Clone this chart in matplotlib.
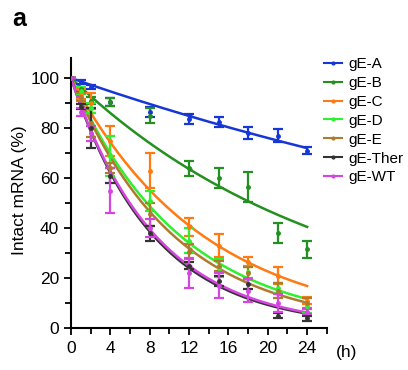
import matplotlib
matplotlib.use('Agg')
import matplotlib.pyplot as plt
import numpy as np

plt.rcParams['font.family'] = ['Liberation Sans', 'DejaVu Sans']

# sampling times (h)
hours = [0, 1, 2, 4, 8, 12, 15, 18, 21, 24]

names = ['gE-A', 'gE-B', 'gE-C', 'gE-D', 'gE-E', 'gE-Ther', 'gE-WT']
colors = ['#1637d6', '#23901f', '#ff7a12', '#2ef02e', '#b07a2c', '#333333', '#d545e0']

# mean intact mRNA (%) and SD
gE_A = [100, 98.5, 96.5, 90.5, 86.5, 83.5, 82.5, 78, 77, 71]
gE_A_sd = [0, 0.8, 0.8, 1.5, 2, 2, 2, 2.5, 2.5, 1.5]
gE_B = [100, 95.5, 91, 90.5, 85, 64, 60, 56.5, 38, 31.5]
gE_B_sd = [0, 1, 1.5, 1.5, 3, 3, 4, 6, 4, 3.5]
gE_C = [100, 93.5, 90, 75, 63, 40.5, 33, 26.5, 21, 11]
gE_C_sd = [0, 2, 4, 6, 7, 3.5, 4.5, 2, 3.5, 1.5]
gE_D = [100, 95, 88, 69, 51, 35, 24, 22.5, 16, 9]
gE_D_sd = [0, 1.5, 2, 8, 4, 5, 3.5, 2.5, 2, 3]
gE_E = [100, 92.5, 82, 64, 45.5, 30.5, 25, 22, 15, 10]
gE_E_sd = [0, 1.5, 5.5, 2, 4.5, 3, 2, 2.5, 3, 2]
gE_Ther = [100, 88.5, 80, 61, 38, 25, 19, 17.5, 5, 4]
gE_Ther_sd = [0, 1, 8, 3, 3, 1.5, 2, 2, 1, 1]
gE_WT = [100, 86.5, 78, 55, 40, 22, 17, 15, 10, 6.5]
gE_WT_sd = [0, 1.5, 3, 9, 3.5, 6, 5, 4.5, 3.5, 1]

# fitted first-order decay constants (1/h)
decay_k = [0.0137, 0.0377, 0.0743, 0.0898, 0.0955, 0.119, 0.116]

means = [gE_A, gE_B, gE_C, gE_D, gE_E, gE_Ther, gE_WT]
sds = [gE_A_sd, gE_B_sd, gE_C_sd, gE_D_sd, gE_E_sd, gE_Ther_sd, gE_WT_sd]

fig = plt.figure(figsize=(4.08, 3.70), dpi=100)
ax = fig.add_axes([0.174, 0.1135, 0.627, 0.743])

tt = np.linspace(0, 24, 200)
for name, c, m, s, k in zip(names, colors, means, sds, decay_k):
    ax.errorbar(hours, m, yerr=s, fmt='o', ms=2.5, color=c, ecolor=c,
                elinewidth=1.6, capsize=3.5, capthick=1.6, zorder=3)
    ax.plot(tt, 100 * np.exp(-k * tt), color=c, lw=1.8, zorder=2,
            label=name, marker='.', markevery=[100], ms=4)

ax.set_xlim(0, 26)
ax.set_ylim(0, 110)
ax.set_xticks(range(0, 25, 4))
ax.set_xticks(range(0, 27, 2), minor=True)
ax.set_yticks(range(0, 101, 20))
ax.set_yticks(range(0, 101, 10), minor=True)
ax.tick_params(which='both', direction='out', width=1.3, labelsize=12.5)
ax.tick_params(which='major', length=5)
ax.tick_params(which='minor', length=4)
ax.tick_params(axis='x', pad=4)
for side in ['top', 'right']:
    ax.spines[side].set_visible(False)
for side in ['left', 'bottom']:
    ax.spines[side].set_linewidth(1.5)
ax.spines['left'].set_bounds(0, 108)

ax.set_ylabel('Intact mRNA (%)', fontsize=12.5, labelpad=2)
fig.text(336 / 408, 1 - 352 / 370, '(h)', fontsize=12.5, va='center', ha='left')
fig.text(12 / 408, 1 - 19 / 370, 'a', fontsize=18, fontweight='bold', va='center')

leg = ax.legend(loc='upper left', bbox_to_anchor=(318 / 408, 1 - 51 / 370),
                bbox_transform=fig.transFigure, frameon=False, fontsize=11,
                handlelength=1.2, handletextpad=0.4, labelspacing=0.32,
                borderaxespad=0)
for h in leg.get_lines():
    h.set_linewidth(1.5)

fig.savefig('out.png', dpi=100)
